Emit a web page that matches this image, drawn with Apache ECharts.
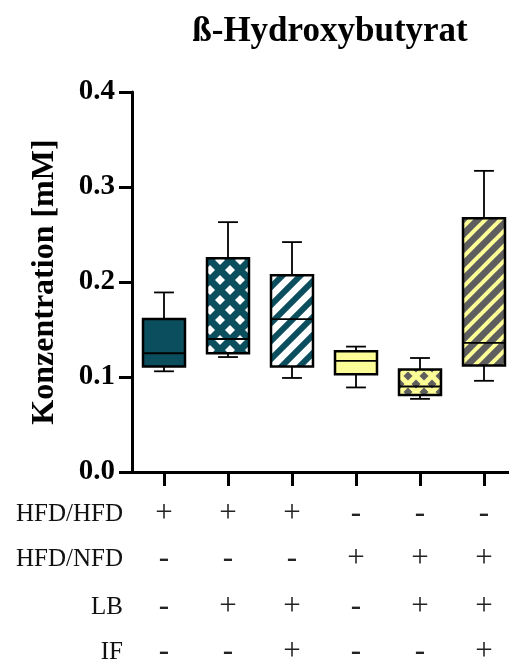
<!DOCTYPE html>
<html><head><meta charset="utf-8">
<script src="https://cdn.jsdelivr.net/npm/echarts@6/dist/echarts.min.js"></script>
<style>html,body{margin:0;padding:0;background:#fff}#c{width:509px;height:662px}</style>
</head><body><div id="c"></div>
<script>
// ---- data ----
const categories = ['G1','G2','G3','G4','G5','G6'];
const whiskerLow  = [0.106, 0.121, 0.099, 0.089, 0.077, 0.096];
const q1          = [0.111, 0.125, 0.111, 0.103, 0.081, 0.112];
const median      = [0.125, 0.140, 0.161, 0.117, 0.090, 0.136];
const q3          = [0.161, 0.225, 0.207, 0.127, 0.108, 0.267];
const whiskerHigh = [0.189, 0.263, 0.242, 0.132, 0.120, 0.317];
const yTicks = [0.0, 0.1, 0.2, 0.3, 0.4];
const titleText = 'ß-Hydroxybutyrat';
const yName = 'Konzentration [mM]';
const rowNames = ['HFD/HFD', 'HFD/NFD', 'LB', 'IF'];
const rowHFDHFD = ['+','+','+','-','-','-'];
const rowHFDNFD = ['-','-','-','+','+','+'];
const rowLB     = ['-','+','+','-','+','+'];
const rowIF     = ['-','-','+','-','-','+'];
const rows = [rowHFDHFD, rowHFDNFD, rowLB, rowIF];

// ---- styles ----
const TEAL = '#0b4f5e', YEL = '#fdfd98', GREY = '#5e5e5e', WHITE = '#ffffff';
const SERIF = 'Liberation Serif';
function stripes(bg, fg, p, w) {
  const c = document.createElement('canvas'); c.width = p; c.height = p;
  const g = c.getContext('2d');
  g.fillStyle = bg; g.fillRect(0, 0, p, p);
  g.strokeStyle = fg; g.lineWidth = w;
  for (let k = -1; k <= 1; k++) {
    g.beginPath(); g.moveTo(k * p - p, 2 * p); g.lineTo(k * p + 2 * p, -p); g.stroke();
  }
  return { image: c, repeat: 'repeat' };
}
function diamonds(bg, fg, p, r) {
  const c = document.createElement('canvas'); c.width = p; c.height = p;
  const g = c.getContext('2d');
  g.fillStyle = bg; g.fillRect(0, 0, p, p);
  g.fillStyle = fg;
  const centers = [[0,0],[p,0],[0,p],[p,p],[p/2,p/2]];
  centers.forEach(([cx, cy]) => {
    g.beginPath(); g.moveTo(cx, cy - r); g.lineTo(cx + r, cy); g.lineTo(cx, cy + r); g.lineTo(cx - r, cy); g.closePath(); g.fill();
  });
  return { image: c, repeat: 'repeat' };
}
const fills = [
  TEAL,
  diamonds(TEAL, WHITE, 20, 5),
  stripes(WHITE, TEAL, 18, 6),
  YEL,
  diamonds(YEL, GREY, 16, 4.5),
  stripes(GREY, YEL, 15, 4)
];

const boxData = categories.map((c, i) => [i, whiskerLow[i], q1[i], median[i], q3[i], whiskerHigh[i]]);

const rowAxisOffsets = [42, 87, 135, 180];
const extraX = rows.map((row, r) => ({
  type: 'category', data: categories, gridIndex: 0, position: 'bottom', offset: rowAxisOffsets[r],
  axisLine: { show: false }, axisTick: { show: false }, splitLine: { show: false },
  axisLabel: { interval: 0, margin: 0, verticalAlign: 'middle', formatter: (v, idx) => row[idx],
    fontFamily: SERIF, fontSize: 31, color: '#222' },
  name: rowNames[r], nameLocation: 'start', nameGap: 9,
  nameTextStyle: { fontFamily: SERIF, fontSize: 25, color: '#111', verticalAlign: 'middle' }
}));

const chart = echarts.init(document.getElementById('c'), null, { renderer: 'canvas' });
chart.setOption({
  animation: false,
  backgroundColor: '#fff',
  title: {
    text: titleText, left: 325, top: 9, textAlign: 'center',
    textStyle: { fontFamily: SERIF, fontWeight: 'bold', fontSize: 35, color: '#000' }
  },
  grid: { left: 132, top: 92, width: 384, height: 380, containLabel: false, outerBoundsMode: 'none' },
  xAxis: [{
    type: 'category', data: categories, gridIndex: 0, position: 'bottom',
    axisLine: { show: true, lineStyle: { color: '#000', width: 3 } },
    axisTick: { show: true, alignWithLabel: true, length: 14, lineStyle: { color: '#000', width: 3 } },
    axisLabel: { show: false }, splitLine: { show: false }
  }].concat(extraX),
  yAxis: {
    type: 'value', min: yTicks[0], max: yTicks[yTicks.length - 1], interval: yTicks[1] - yTicks[0],
    axisLine: { show: true, lineStyle: { color: '#000', width: 3 } },
    axisTick: { show: true, length: 13, lineStyle: { color: '#000', width: 3 } },
    axisLabel: { formatter: v => v.toFixed(1), fontFamily: SERIF, fontWeight: 'bold', fontSize: 29, color: '#000', margin: 17 },
    splitLine: { show: false },
    name: yName, nameLocation: 'middle', nameGap: 71,
    nameTextStyle: { fontFamily: SERIF, fontWeight: 'bold', fontSize: 32, color: '#000' }
  },
  series: [{
    type: 'custom', xAxisIndex: 0, yAxisIndex: 0,
    data: boxData,
    encode: { x: 0, y: [1, 2, 3, 4, 5] },
    renderItem: function (params, api) {
      const i = api.value(0);
      const band = api.size([1, 0])[0];
      const bw = band * 0.656, cw = band * 0.31;
      const pLow = api.coord([i, api.value(1)]);
      const pQ1 = api.coord([i, api.value(2)]);
      const pMed = api.coord([i, api.value(3)]);
      const pQ3 = api.coord([i, api.value(4)]);
      const pHigh = api.coord([i, api.value(5)]);
      const x = pLow[0];
      const ls = { stroke: '#000', lineWidth: 1.8 };
      return {
        type: 'group', children: [
          { type: 'line', shape: { x1: x, y1: pQ3[1], x2: x, y2: pHigh[1] }, style: ls },
          { type: 'line', shape: { x1: x - cw / 2, y1: pHigh[1], x2: x + cw / 2, y2: pHigh[1] }, style: ls },
          { type: 'line', shape: { x1: x, y1: pQ1[1], x2: x, y2: pLow[1] }, style: ls },
          { type: 'line', shape: { x1: x - cw / 2, y1: pLow[1], x2: x + cw / 2, y2: pLow[1] }, style: ls },
          { type: 'rect', shape: { x: x - bw / 2, y: pQ3[1], width: bw, height: pQ1[1] - pQ3[1] },
            style: { fill: fills[i], stroke: '#000', lineWidth: 2.5 } },
          { type: 'line', shape: { x1: x - bw / 2, y1: pMed[1], x2: x + bw / 2, y2: pMed[1] }, style: ls }
        ]
      };
    }
  }]
});
</script>
</body></html>
